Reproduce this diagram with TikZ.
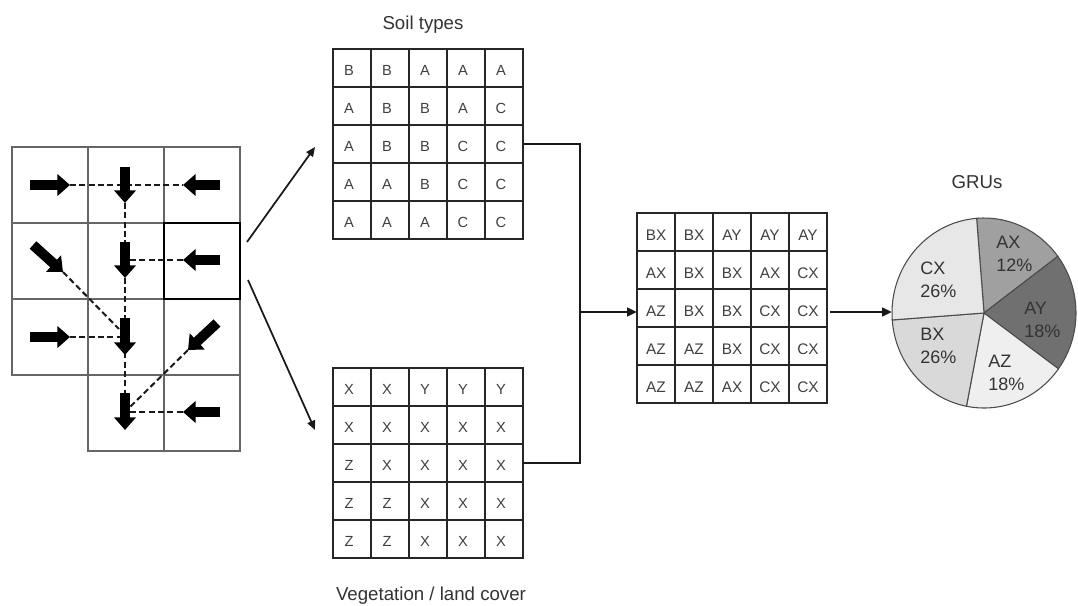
\documentclass[tikz,border=0pt]{standalone}
\usepackage{fontspec}
\setmainfont{Liberation Sans}
\usetikzlibrary{arrows.meta,calc}
\definecolor{cAX}{HTML}{A0A0A0}
\definecolor{cAY}{HTML}{707070}
\definecolor{cAZ}{HTML}{EFEFEF}
\definecolor{cBX}{HTML}{D9D9D9}
\definecolor{cCX}{HTML}{E7E7E7}
\begin{document}
\begin{tikzpicture}[x=0.75pt,y=-0.75pt,
  gcell/.style={draw=black!60, line width=0.8pt, minimum size=57pt, inner sep=0, outer sep=0},
  scell/.style={draw=black!85, line width=1.4pt, minimum size=28.5pt, inner sep=0, outer sep=0},
  stxt/.style={text=black!75, font=\fontsize{11}{13}\selectfont, inner sep=0},
  gtxt/.style={text=black!75, font=\fontsize{11.5}{13}\selectfont, inner sep=0},
  ttl/.style={text=black!80, font=\fontsize{14}{17}\selectfont, inner sep=0, anchor=base},
  plbl/.style={text=black!80, font=\fontsize{13.5}{17}\selectfont, inner sep=0, align=left, anchor=north west},
  blk/.style={draw=black, line width=7.5pt, -{Triangle[length=9.5pt,width=16pt]}},
  flow/.style={draw=black!90, line width=1.5pt, dash pattern=on 4.5pt off 2.5pt},
  thinarr/.style={draw=black!90, line width=1.3pt, -{Triangle[length=7pt,width=6pt]}},
  conn/.style={draw=black!90, line width=1.8pt},
  connarr/.style={draw=black!90, line width=1.8pt, -{Triangle[length=7.5pt,width=6.5pt]}},
  slice/.style={draw=black!70, line width=0.8pt}
]
\useasboundingbox (0,0) rectangle (1078,606);
\fill[white] (0,0) rectangle (1078,606);

% ---------- left flow grid ----------
\foreach \r/\c in {1/1,1/2,1/3,2/1,2/2,2/3,3/1,3/2,3/3,4/2,4/3}
  \node[gcell] (g-\r-\c) at ({50+76*(\c-1)},{185+76*(\r-1)}) {};
\draw[line width=2pt] (g-2-3.south west) rectangle (g-2-3.north east);

% dashed flow paths
\draw[flow] (70,185) -- (183,185);
\draw[flow] (125,203) -- (125,393);
\draw[flow] (63,272) -- (119,329);
\draw[flow] (130,260) -- (183,260);
\draw[flow] (70,337) -- (120,337);
\draw[flow] (188,350) -- (130,407);
\draw[flow] (130,412) -- (183,412);

% block arrows
\draw[blk] (30,185) -- (70,185);
\draw[blk] (125,167) -- (125,203);
\draw[blk] (220,185) -- (183,185);
\draw[blk] (33,245) -- (63,272);
\draw[blk] (125,242) -- (125,278);
\draw[blk] (220,260) -- (183,260);
\draw[blk] (30,337) -- (70,337);
\draw[blk] (125,318) -- (125,355);
\draw[blk] (217,323) -- (188,350);
\draw[blk] (125,393) -- (125,430);
\draw[blk] (220,412) -- (183,412);

% ---------- soil grid ----------
\node[ttl] (soiltitle) at (423,30) {Soil types};
\foreach \row [count=\r] in {{B,B,A,A,A},{A,B,B,A,C},{A,B,B,C,C},{A,A,B,C,C},{A,A,A,C,C}}{
  \foreach \t [count=\c] in \row {
    \node[scell] (soil-\r-\c) at ({352+38*(\c-1)},{68+38*(\r-1)}) {};
    \node[stxt] at ($(soil-\r-\c.center)+(-3,2)$) {\t};
  }
}

% ---------- vegetation grid ----------
\foreach \row [count=\r] in {{X,X,Y,Y,Y},{X,X,X,X,X},{Z,X,X,X,X},{Z,Z,X,X,X},{Z,Z,X,X,X}}{
  \foreach \t [count=\c] in \row {
    \node[scell] (veg-\r-\c) at ({352+38*(\c-1)},{387+38*(\r-1)}) {};
    \node[stxt] at ($(veg-\r-\c.center)+(-3,2)$) {\t};
  }
}
\node[ttl] (vegtitle) at (431,600) {Vegetation / land cover};

% ---------- GRU grid ----------
\foreach \row [count=\r] in {{BX,BX,AY,AY,AY},{AX,BX,BX,AX,CX},{AZ,BX,BX,CX,CX},{AZ,AZ,BX,CX,CX},{AZ,AZ,AX,CX,CX}}{
  \foreach \t [count=\c] in \row {
    \node[scell] (gru-\r-\c) at ({656+38*(\c-1)},{232+38*(\r-1)}) {};
    \node[gtxt] at ($(gru-\r-\c.center)+(0,3)$) {\t};
  }
}

% ---------- connectors ----------
\coordinate (la1) at (247,242);
\coordinate (la2) at (248,280);
\coordinate (sT) at (315,147);
\coordinate (vT) at (315,430);
\draw[thinarr] (la1) -- (sT);
\draw[thinarr] (la2) -- (vT);

\coordinate (jn) at (580,312);
\coordinate (gin) at (637,312);
\coordinate (gout) at (830,312);
\coordinate (pieW) at (892,312);
\draw[conn] (soil-3-5.east) -| (jn) |- (veg-3-5.east);
\draw[connarr] (jn) -- (gin);
\draw[connarr] (gout) -- (pieW);

% ---------- pie ----------
\node[ttl] (grutitle) at (977,189) {GRUs};
\coordinate (pc) at (984,313);
\foreach \a/\b/\col in {-94.6/-36.6/cAX, -36.6/36/cAY, 36/101/cAZ, 101/175.8/cBX, 175.8/265.4/cCX}
  \filldraw[slice, fill=\col] (pc) -- ++(\a:92 and 95) arc[start angle=\a, end angle=\b, x radius=92, y radius=95] -- cycle;

\node[plbl] (lAX) at (996,236) {AX\\12\%};
\node[plbl] (lAY) at (1024,302) {AY\\18\%};
\node[plbl] (lCX) at (920,262) {CX\\26\%};
\node[plbl] (lBX) at (920,328) {BX\\26\%};
\node[plbl] (lAZ) at (988,355) {AZ\\18\%};
\end{tikzpicture}
\end{document}
